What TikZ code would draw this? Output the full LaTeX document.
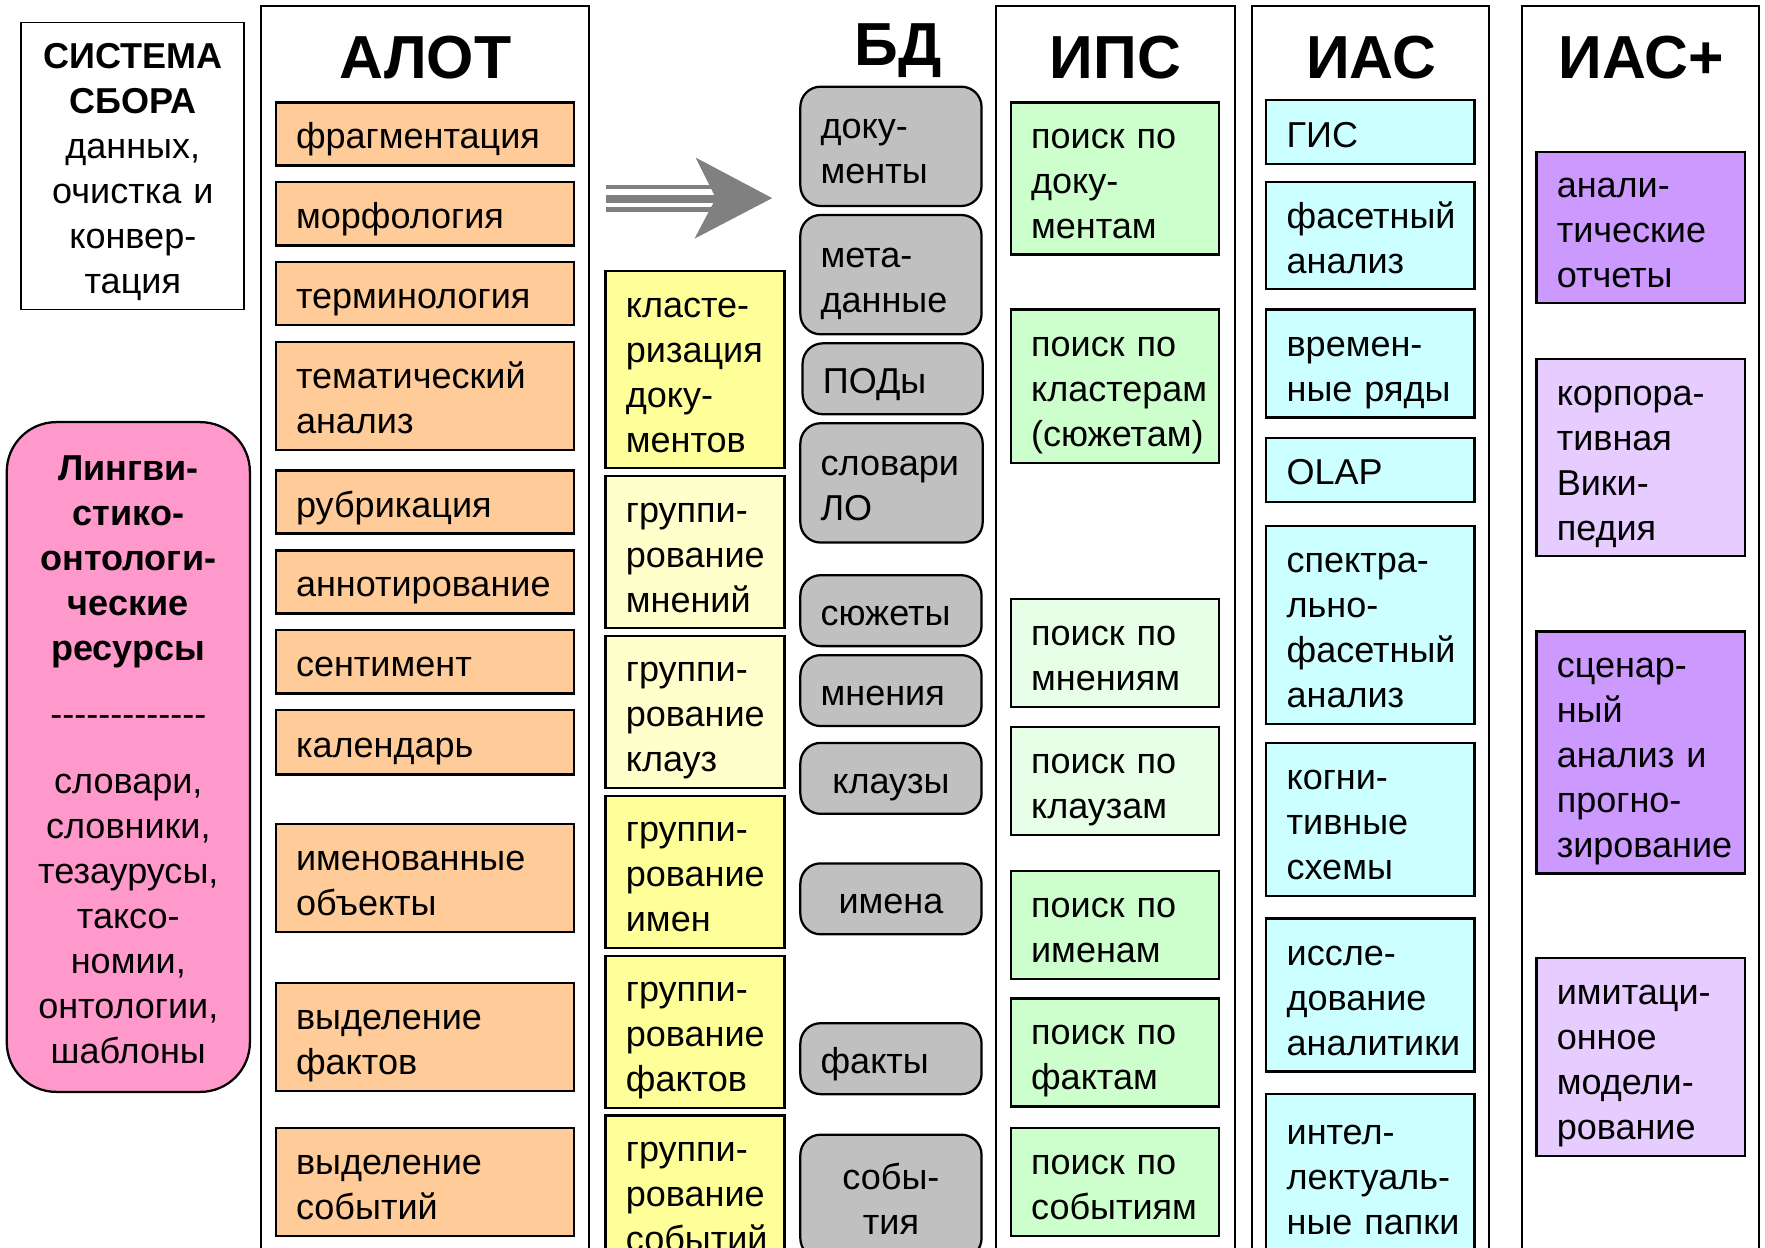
\documentclass[tikz,border=0pt]{standalone}
\usepackage{fontspec}
\setmainfont{Liberation Sans}
\hyphenpenalty=10000
\exhyphenpenalty=10000
\definecolor{orng}{HTML}{FFCC99}
\definecolor{ylw}{HTML}{FFFF99}
\definecolor{lylw}{HTML}{FFFFCC}
\definecolor{gry}{HTML}{C0C0C0}
\definecolor{grn}{HTML}{CCFFCC}
\definecolor{lgrn}{HTML}{E6FFE6}
\definecolor{cyn}{HTML}{CCFFFF}
\definecolor{prp}{HTML}{CC99FF}
\definecolor{lprp}{HTML}{E6CCFF}
\definecolor{pnk}{HTML}{FF99CC}
\definecolor{arrgray}{HTML}{808080}
\newcommand\mybox[7]{%
  \pgfmathsetmacro\mycx{(#3+#5)/2}%
  \pgfmathsetmacro\mycy{(#4+#6)/2}%
  \pgfmathsetmacro\mybw{(#5-#3)*0.5}%
  \pgfmathsetmacro\mybh{(#6-#4)*0.5}%
  \pgfmathsetmacro\mytw{(#5-#3)*0.5-18}%
  \node[bx,#2,minimum width=\mybw pt,minimum height=\mybh pt,text width=\mytw pt] (#1) at (\mycx,\mycy) {#7};%
}
\begin{document}
\begin{tikzpicture}[x=0.5pt,y=-0.5pt,
  bx/.style={draw=black,line width=1pt,inner xsep=9pt,inner ysep=0pt,
    font=\fontsize{16}{20}\selectfont,align=left,
    execute at begin node={\rule{0pt}{18.3pt}},
    execute at end node={\rule[-5pt]{0pt}{5pt}}},
  ttl/.style={font=\bfseries\fontsize{27}{30}\selectfont,anchor=base,inner sep=0pt},
  col/.style={draw=black,line width=0.8pt,fill=white},
  gbox/.style={fill=gry,rounded corners=9pt}]
\useasboundingbox (0,0) rectangle (1568,1108);
\clip (0,0) rectangle (1568,1108);
\fill[white] (0,0) rectangle (1568,1108);
% columns
\draw[col] (232,5) rectangle (523,1140);
\draw[col] (885,5) rectangle (1097,1140);
\draw[col] (1112,5) rectangle (1323,1140);
\draw[col] (1352,5) rectangle (1563,1140);
% titles
\node[ttl] (tALOT) at (378,70) {АЛОТ};
\node[ttl] (tBD) at (798,58) {БД};
\node[ttl] (tIPS) at (991,70) {ИПС};
\node[ttl] (tIAS) at (1218,70) {ИАС};
\node[ttl] (tIASp) at (1458,70) {ИАС+};
% left boxes
\mybox{sys}{fill=white,align=center,line width=0.8pt}{19}{20}{217}{275}{\textbf{СИСТЕМА}\\\textbf{СБОРА}\\данных,\\очистка~и\\конвер-\\тация}
\mybox{res}{fill=pnk,rounded corners=22pt,align=center}{6}{375}{222}{970}{\textbf{Лингви-}\\\textbf{стико-}\\\textbf{онтологи-}\\\textbf{ческие}\\\textbf{ресурсы}\\[9.5pt]-{}-{}-{}-{}-{}-{}-{}-{}-{}-{}-{}-{}-\\[9.5pt]словари,\\словники,\\тезаурусы,\\таксо-\\номии,\\онтологии,\\шаблоны}
% ALOT orange
\mybox{o1}{fill=orng}{245}{91}{510}{147}{фрагментация}
\mybox{o2}{fill=orng}{245}{162}{510}{218}{морфология}
\mybox{o3}{fill=orng}{245}{233}{510}{289}{терминология}
\mybox{o4}{fill=orng}{245}{304}{510}{400}{тематический\\анализ}
\mybox{o5}{fill=orng}{245}{418}{510}{474}{рубрикация}
\mybox{o6}{fill=orng}{245}{489}{510}{545}{аннотирование}
\mybox{o7}{fill=orng}{245}{560}{510}{616}{сентимент}
\mybox{o8}{fill=orng}{245}{631}{510}{688}{календарь}
\mybox{o9}{fill=orng}{245}{732}{510}{828}{именованные\\объекты}
\mybox{o10}{fill=orng}{245}{873}{510}{969}{выделение\\фактов}
\mybox{o11}{fill=orng}{245}{1002}{510}{1098}{выделение\\событий}
% arrow
\fill[arrgray] (538,164) rectangle (636,168);
\fill[arrgray] (538,173) rectangle (636,180);
\fill[arrgray] (538,184) rectangle (636,188);
\fill[arrgray] (618,140) -- (686,176) -- (617,212) -- (636,176) -- cycle;
% yellow
\mybox{y1}{fill=ylw}{538}{241}{697}{416}{класте-\\ризация\\доку-\\ментов}
\mybox{y2}{fill=lylw}{538}{423}{697}{558}{группи-\\рование\\мнений}
\mybox{y3}{fill=lylw}{538}{565}{697}{700}{группи-\\рование\\клауз}
\mybox{y4}{fill=ylw}{538}{707}{697}{842}{группи-\\рование\\имен}
\mybox{y5}{fill=ylw}{538}{849}{697}{984}{группи-\\рование\\фактов}
\mybox{y6}{fill=ylw}{538}{991}{697}{1126}{группи-\\рование\\событий}
% gray DB
\mybox{g1}{gbox}{711}{77}{872}{183}{доку-\\менты}
\mybox{g2}{gbox}{711}{191}{872}{297}{мета-\\данные}
\mybox{g3}{gbox}{713}{305}{873}{368}{ПОДы}
\mybox{g4}{gbox}{711}{376}{873}{482}{словари\\ЛО}
\mybox{g5}{gbox}{711}{511}{872}{574}{сюжеты}
\mybox{g6}{gbox}{711}{582}{872}{645}{мнения}
\mybox{g7}{gbox,align=center}{711}{660}{872}{723}{клаузы}
\mybox{g8}{gbox,align=center}{711}{767}{872}{830}{имена}
\mybox{g9}{gbox}{711}{909}{872}{972}{факты}
\mybox{g10}{gbox,align=center}{711}{1008}{872}{1118}{собы-\\тия}
% green IPS
\mybox{p1}{fill=grn}{898}{91}{1083}{226}{поиск~по\\доку-\\ментам}
\mybox{p2}{fill=grn}{898}{275}{1083}{411}{поиск~по\\кластерам\\(сюжетам)}
\mybox{p3}{fill=lgrn}{898}{532}{1083}{628}{поиск~по\\мнениям}
\mybox{p4}{fill=lgrn}{898}{646}{1083}{742}{поиск~по\\клаузам}
\mybox{p5}{fill=grn}{898}{774}{1083}{870}{поиск~по\\именам}
\mybox{p6}{fill=grn}{898}{887}{1083}{983}{поиск~по\\фактам}
\mybox{p7}{fill=grn}{898}{1002}{1083}{1098}{поиск~по\\событиям}
% cyan IAS
\mybox{c1}{fill=cyn}{1125}{89}{1310}{146}{ГИС}
\mybox{c2}{fill=cyn}{1125}{162}{1310}{257}{фасетный\\анализ}
\mybox{c3}{fill=cyn}{1125}{275}{1310}{371}{времен-\\ные~ряды}
\mybox{c4}{fill=cyn}{1125}{389}{1310}{446}{OLAP}
\mybox{c5}{fill=cyn}{1125}{467}{1310}{643}{спектра-\\льно-\\фасетный\\анализ}
\mybox{c6}{fill=cyn}{1125}{660}{1310}{796}{когни-\\тивные\\схемы}
\mybox{c7}{fill=cyn}{1125}{816}{1310}{952}{иссле-\\дование\\аналитики}
\mybox{c8}{fill=cyn}{1125}{972}{1310}{1114}{интел-\\лектуаль-\\ные~папки}
% purple IAS+
\mybox{u1}{fill=prp}{1365}{135}{1550}{269}{анали-\\тические\\отчеты}
\mybox{u2}{fill=lprp}{1365}{319}{1550}{494}{корпора-\\тивная\\Вики-\\педия}
\mybox{u3}{fill=prp}{1365}{561}{1550}{776}{сценар-\\ный\\анализ~и\\прогно-\\зирование}
\mybox{u4}{fill=lprp}{1365}{851}{1550}{1027}{имитаци-\\онное\\модели-\\рование}
\end{tikzpicture}
\end{document}
